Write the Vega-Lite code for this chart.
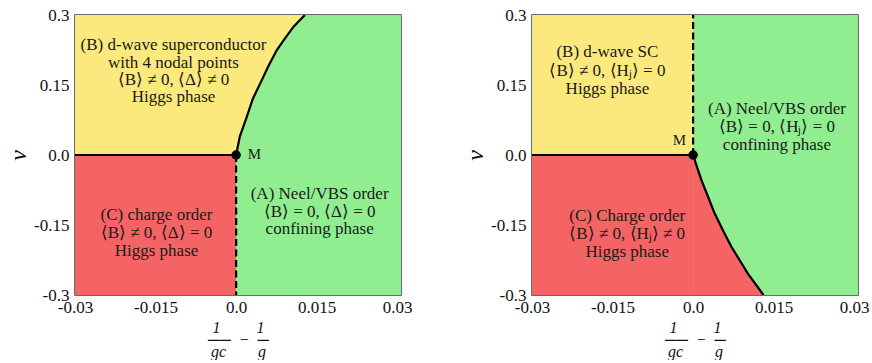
{
  "$schema": "https://vega.github.io/schema/vega-lite/v6.json",
  "padding": {"left": 5, "top": 5, "right": 5, "bottom": 0},
  "background": "white",
  "config": {
    "font": "Liberation Serif",
    "view": {"stroke": "#3a3a3a", "strokeWidth": 1.5},
    "axis": {
      "grid": false, "ticks": false, "domain": false,
      "labelFont": "Liberation Serif", "labelFontSize": 17, "labelColor": "#111",
      "titleFont": "Liberation Serif", "titleColor": "#111", "titleFontWeight": "normal",
      "labelFlush": false, "labelOverlap": false
    },
    "text": {"font": "Liberation Serif"}
  },
  "datasets": {
    "regions": [
      {"x": 0, "x2": 0.0307, "y": -0.3, "y2": 0.3, "phase": "A"},
      {"x": -0.03, "x2": 0, "y": 0, "y2": 0.3, "phase": "B"},
      {"x": -0.03, "x2": 0, "y": -0.3, "y2": 0, "phase": "C"}
    ],
    "leftBoundary": [
      {"x": 0, "y": 0}, {"x": 0.0007, "y": 0.04}, {"x": 0.002, "y": 0.082}, {"x": 0.0031, "y": 0.12},
      {"x": 0.00447, "y": 0.153}, {"x": 0.006, "y": 0.19}, {"x": 0.00758, "y": 0.225},
      {"x": 0.0091, "y": 0.25}, {"x": 0.0107, "y": 0.275}, {"x": 0.0128, "y": 0.3}
    ],
    "rightBoundary": [
      {"x": 0, "y": 0}, {"x": 0.0007, "y": -0.025}, {"x": 0.00155, "y": -0.054}, {"x": 0.0028, "y": -0.09},
      {"x": 0.004, "y": -0.125}, {"x": 0.0055, "y": -0.16}, {"x": 0.0071, "y": -0.196},
      {"x": 0.0087, "y": -0.226}, {"x": 0.0102, "y": -0.254}, {"x": 0.0131, "y": -0.3}
    ],
    "leftLines": [
      {"x": -0.03, "x2": 0, "y": 0, "y2": 0, "style": "solid"},
      {"x": 0, "x2": 0, "y": 0, "y2": -0.3, "style": "dashed"}
    ],
    "rightLines": [
      {"x": -0.03, "x2": 0, "y": 0, "y2": 0, "style": "solid"},
      {"x": 0, "x2": 0, "y": 0, "y2": 0.3, "style": "dashed"}
    ],
    "point": [{"x": 0, "y": 0}],
    "leftLabels": [
      {"t": "(B) d-wave superconductor", "x": -0.01166, "y": 0.2357, "kind": "region"},
      {"t": "with 4 nodal points", "x": -0.01166, "y": 0.1978, "kind": "region"},
      {"t": "⟨B⟩ ≠ 0, ⟨Δ⟩ ≠ 0", "x": -0.01166, "y": 0.1607, "kind": "region"},
      {"t": "Higgs phase", "x": -0.01166, "y": 0.125, "kind": "region"},
      {"t": "(C) charge order", "x": -0.01482, "y": -0.1286, "kind": "region"},
      {"t": "⟨B⟩ ≠ 0, ⟨Δ⟩ = 0", "x": -0.01482, "y": -0.168, "kind": "region"},
      {"t": "Higgs phase", "x": -0.01482, "y": -0.2057, "kind": "region"},
      {"t": "(A) Neel/VBS order", "x": 0.01555, "y": -0.0844, "kind": "region"},
      {"t": "⟨B⟩ = 0, ⟨Δ⟩ = 0", "x": 0.01555, "y": -0.123, "kind": "region"},
      {"t": "confining phase", "x": 0.01555, "y": -0.1594, "kind": "region"},
      {"t": "M", "x": 0.0034, "y": 0.002, "kind": "point"}
    ],
    "rightLabels": [
      {"t": "(B) d-wave SC", "x": -0.01596, "y": 0.2198, "kind": "region"},
      {"t": "⟨B⟩ ≠ 0, ⟨Hⱼ⟩ = 0", "x": -0.01596, "y": 0.1806, "kind": "region"},
      {"t": "Higgs phase", "x": -0.01596, "y": 0.1414, "kind": "region"},
      {"t": "(A) Neel/VBS order", "x": 0.0156, "y": 0.0986, "kind": "region"},
      {"t": "⟨B⟩ = 0, ⟨Hⱼ⟩ = 0", "x": 0.0156, "y": 0.0591, "kind": "region"},
      {"t": "confining phase", "x": 0.0156, "y": 0.0214, "kind": "region"},
      {"t": "(C) Charge order", "x": -0.01227, "y": -0.13, "kind": "region"},
      {"t": "⟨B⟩ ≠ 0, ⟨Hⱼ⟩ ≠ 0", "x": -0.01227, "y": -0.1693, "kind": "region"},
      {"t": "Higgs phase", "x": -0.01227, "y": -0.2072, "kind": "region"},
      {"t": "M", "x": -0.00255, "y": 0.0328, "kind": "point"}
    ]
  },
  "bounds": "flush",
  "spacing": 131,
  "hconcat": [
    {
      "width": 326, "height": 280,
      "encoding": {
        "x": {"field": "x", "type": "quantitative",
          "scale": {"domain": [-0.03, 0.0307], "nice": false, "zero": false},
          "axis": {"values": [-0.03, -0.015, 0, 0.015, 0.03], "labelExpr": "datum.value == 0 ? '0.0' : '' + datum.value",
            "labelPadding": 4, "titleFontSize": 16, "titleFontStyle": "italic", "titleLineHeight": 12, "titlePadding": 4,
            "title": ["1\u2002\u2002\u2002\u2002\u00a01", "\u2500\u2500\u00a0\u00a0\u2212\u00a0\u00a0\u2500", "gc\u2002\u2002\u2002\u2002g"]}},
        "y": {"field": "y", "type": "quantitative",
          "scale": {"domain": [-0.3, 0.3], "nice": false, "zero": false},
          "axis": {"values": [-0.3, -0.15, 0, 0.15, 0.3], "labelExpr": "datum.value == 0 ? '0.0' : '' + datum.value",
            "labelPadding": 6, "titleFontSize": 24, "titleFontStyle": "italic", "titlePadding": 3, "title": "v"}}
      },
      "layer": [
        {"data": {"name": "regions"}, "mark": {"type": "rect"},
          "encoding": {"x2": {"field": "x2"}, "y2": {"field": "y2"},
            "color": {"field": "phase", "type": "nominal", "scale": {"domain": ["A", "B", "C"], "range": ["#90ee90", "#fbe97d", "#f46464"]}, "legend": null}}},
        {"data": {"name": "leftBoundary"}, "mark": {"type": "area", "color": "#fbe97d", "fill": "#fbe97d", "opacity": 1, "clip": true},
          "encoding": {"y2": {"datum": 0.3}}},
        {"data": {"name": "leftLines"}, "mark": {"type": "rule", "color": "#000", "strokeWidth": 2.2},
          "encoding": {"x2": {"field": "x2"}, "y2": {"field": "y2"},
            "strokeDash": {"field": "style", "type": "nominal", "scale": {"domain": ["solid", "dashed"], "range": [[1, 0], [7, 3.5]]}, "legend": null}}},
        {"data": {"name": "leftBoundary"}, "mark": {"type": "line", "color": "#000", "strokeWidth": 2.2, "clip": true},
          "encoding": {"order": {"field": "y"}}},
        {"data": {"name": "point"}, "mark": {"type": "circle", "color": "#000", "opacity": 1, "size": 90}, "encoding": {}},
        {"data": {"name": "leftLabels"}, "transform": [{"filter": "datum.kind == 'region'"}],
          "mark": {"type": "text", "font": "Liberation Serif", "fontSize": 17, "align": "center", "baseline": "middle", "color": "#1a1a1a"},
          "encoding": {"text": {"field": "t"}}},
        {"data": {"name": "leftLabels"}, "transform": [{"filter": "datum.kind == 'point'"}],
          "mark": {"type": "text", "font": "Liberation Serif", "fontSize": 15, "align": "center", "baseline": "middle", "color": "#1a1a1a"},
          "encoding": {"text": {"field": "t"}}}
      ]
    },
    {
      "width": 326, "height": 280,
      "encoding": {
        "x": {"field": "x", "type": "quantitative",
          "scale": {"domain": [-0.03, 0.0307], "nice": false, "zero": false},
          "axis": {"values": [-0.03, -0.015, 0, 0.015, 0.03], "labelExpr": "datum.value == 0 ? '0.0' : '' + datum.value",
            "labelPadding": 4, "titleFontSize": 16, "titleFontStyle": "italic", "titleLineHeight": 12, "titlePadding": 4,
            "title": ["1\u2002\u2002\u2002\u2002\u00a01", "\u2500\u2500\u00a0\u00a0\u2212\u00a0\u00a0\u2500", "gc\u2002\u2002\u2002\u2002g"]}},
        "y": {"field": "y", "type": "quantitative",
          "scale": {"domain": [-0.3, 0.3], "nice": false, "zero": false},
          "axis": {"values": [-0.3, -0.15, 0, 0.15, 0.3], "labelExpr": "datum.value == 0 ? '0.0' : '' + datum.value",
            "labelPadding": 6, "titleFontSize": 24, "titleFontStyle": "italic", "titlePadding": 3, "title": "v"}}
      },
      "layer": [
        {"data": {"name": "regions"}, "mark": {"type": "rect"},
          "encoding": {"x2": {"field": "x2"}, "y2": {"field": "y2"},
            "color": {"field": "phase", "type": "nominal", "scale": {"domain": ["A", "B", "C"], "range": ["#90ee90", "#fbe97d", "#f46464"]}, "legend": null}}},
        {"data": {"name": "rightBoundary"}, "mark": {"type": "area", "color": "#f46464", "fill": "#f46464", "opacity": 1, "clip": true},
          "encoding": {"y2": {"datum": -0.3}}},
        {"data": {"name": "rightLines"}, "mark": {"type": "rule", "color": "#000", "strokeWidth": 2.2},
          "encoding": {"x2": {"field": "x2"}, "y2": {"field": "y2"},
            "strokeDash": {"field": "style", "type": "nominal", "scale": {"domain": ["solid", "dashed"], "range": [[1, 0], [7, 3.5]]}, "legend": null}}},
        {"data": {"name": "rightBoundary"}, "mark": {"type": "line", "color": "#000", "strokeWidth": 2.2, "clip": true},
          "encoding": {"order": {"field": "y"}}},
        {"data": {"name": "point"}, "mark": {"type": "circle", "color": "#000", "opacity": 1, "size": 90}, "encoding": {}},
        {"data": {"name": "rightLabels"}, "transform": [{"filter": "datum.kind == 'region'"}],
          "mark": {"type": "text", "font": "Liberation Serif", "fontSize": 17, "align": "center", "baseline": "middle", "color": "#1a1a1a"},
          "encoding": {"text": {"field": "t"}}},
        {"data": {"name": "rightLabels"}, "transform": [{"filter": "datum.kind == 'point'"}],
          "mark": {"type": "text", "font": "Liberation Serif", "fontSize": 15, "align": "center", "baseline": "middle", "color": "#1a1a1a"},
          "encoding": {"text": {"field": "t"}}}
      ]
    }
  ]
}
